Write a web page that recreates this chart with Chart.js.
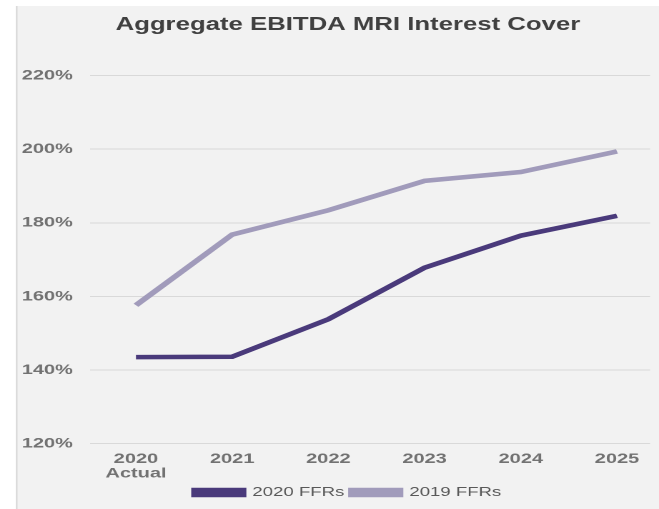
<!DOCTYPE html>
<html lang="en">
<head>
<meta charset="UTF-8">
<title>Aggregate EBITDA MRI Interest Cover</title>
<script src="https://cdn.jsdelivr.net/npm/chart.js"></script>
<style>
  html, body { margin: 0; padding: 0; background: #fff; overflow: hidden; }
  /* the source picture is stretched sideways, so the canvas is drawn narrow and widened by css */
  #chart { display: block; width: 659px; height: 509px; }
</style>
</head>
<body>
<canvas id="chart" width="461" height="509" style="width:659px;height:509px"></canvas>
<script>
  const years = ['2020', '2021', '2022', '2023', '2024', '2025'];
  const yearNotes = ['Actual', '', '', '', '', ''];
  const ffr2020 = [143.5, 143.6, 153.8, 167.8, 176.5, 181.9];
  const ffr2019 = [157.6, 176.8, 183.4, 191.4, 193.8, 199.4];
  const yTicks = [120, 140, 160, 180, 200, 220];

  // gray panel behind the chart
  const panel = {
    id: 'panel',
    beforeDraw(c) {
      const ctx = c.ctx;
      ctx.save();
      ctx.fillStyle = '#ffffff';
      ctx.fillRect(0, 0, c.width, c.height);
      ctx.fillStyle = '#f2f2f2';
      ctx.fillRect(11.2, 6, c.width, c.height);
      ctx.fillStyle = '#d6d6d6';
      ctx.fillRect(11.2, 6, 1, c.height);
      ctx.restore();
    }
  };

  // y labels hang out into the left padding, so widen the clip box of the axis
  const wideY = {
    id: 'wideY',
    afterLayout(c) { c.scales.y.left = 0; }
  };

  const toPoints = arr => arr.map((v, i) => ({ x: i, y: v }));
  const tickFont = { family: 'Liberation Sans, Arial', size: 14, weight: 'bold', lineHeight: 1.05 };

  new Chart(document.getElementById('chart'), {
    type: 'line',
    data: {
      datasets: [
        { label: '2020 FFRs', data: toPoints(ffr2020), borderColor: '#4a3a7b', backgroundColor: '#4a3a7b',
          borderWidth: 4.6, pointRadius: 0, tension: 0 },
        { label: '2019 FFRs', data: toPoints(ffr2019), borderColor: '#a19bbb', backgroundColor: '#a19bbb',
          borderWidth: 4.6, pointRadius: 0, tension: 0 }
      ]
    },
    options: {
      responsive: false,
      animation: false,
      devicePixelRatio: 2,
      layout: { padding: { left: 32, right: 6.3, top: 6, bottom: 0 } },
      plugins: {
        title: {
          display: true,
          text: 'Aggregate EBITDA MRI Interest Cover',
          color: '#404040',
          font: { family: 'Liberation Sans, Arial', size: 18, weight: 'bold' },
          padding: { top: 8, bottom: 40 }
        },
        legend: {
          position: 'bottom',
          labels: {
            boxWidth: 34, boxHeight: 5, padding: 5,
            color: '#595959',
            font: { family: 'Liberation Sans, Arial', size: 13 }
          }
        },
        tooltip: { enabled: false }
      },
      scales: {
        x: {
          type: 'linear',
          min: -0.477,
          max: 5.343,
          afterBuildTicks: s => { s.ticks = years.map((y, i) => ({ value: i })); },
          ticks: {
            color: '#727272',
            font: tickFont,
            padding: 0,
            maxRotation: 0,
            callback: v => yearNotes[v] ? [years[v], yearNotes[v]] : years[v]
          },
          grid: { display: false },
          border: { display: false }
        },
        y: {
          min: 120,
          max: 220,
          afterBuildTicks: s => { s.ticks = yTicks.map(v => ({ value: v })); },
          afterFit: s => { s.width = 31; },
          ticks: {
            color: '#727272',
            font: tickFont,
            padding: 12,
            callback: v => v + '%'
          },
          grid: { color: '#d9d9d9', lineWidth: 1, drawTicks: false },
          border: { display: false }
        }
      }
    },
    plugins: [panel, wideY]
  });
</script>
</body>
</html>
